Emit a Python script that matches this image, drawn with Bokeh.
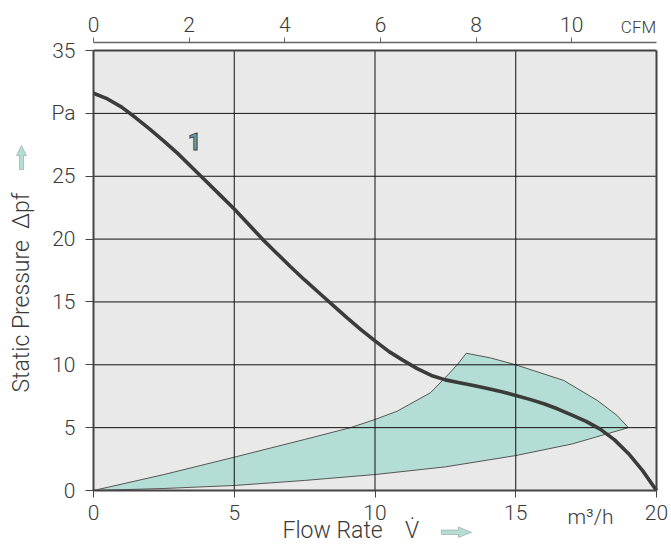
from math import pi

from bokeh.core.properties import value
from bokeh.embed import file_html
from bokeh.models import FixedTicker, Label, LinearAxis, PolyAnnotation, Range1d
from bokeh.plotting import figure
from bokeh.resources import INLINE

# Fan characteristic curve "1": flow rate (m³/h) against static pressure (Pa)
curve_flow = [0.0, 0.5, 1.0, 1.5, 2.0, 2.5, 3.0, 3.5, 4.0, 4.5, 5.0, 5.5, 6.0,
              6.5, 7.0, 7.5, 8.0, 8.5, 9.0, 9.5, 10.0, 10.5, 11.0, 11.5, 12.0,
              12.5, 13.0, 13.5, 14.0, 14.5, 15.0, 15.5, 16.0, 16.5, 17.0, 17.5,
              18.0, 18.5, 19.0, 19.5, 20.0]
curve_pressure = [31.6, 31.15, 30.5, 29.65, 28.75, 27.8, 26.8, 25.7, 24.6,
                  23.5, 22.4, 21.2, 20.0, 18.9, 17.8, 16.75, 15.75, 14.75,
                  13.75, 12.8, 11.9, 11.05, 10.35, 9.7, 9.15, 8.8, 8.58, 8.35,
                  8.12, 7.86, 7.56, 7.25, 6.9, 6.48, 6.0, 5.5, 4.88, 4.05,
                  2.95, 1.6, 0.0]

# Recommended operating range (shaded area), traced round its outline
zone_flow = [0, 2.5, 5, 7.5, 10, 12.5, 15, 17, 19, 18.6, 17.9, 16.7, 15, 14.1,
             13.24, 12.9, 12.43, 11.97, 10.79, 10, 9.13, 7.5, 5, 2.5, 0]
zone_pressure = [0, 0.16, 0.4, 0.8, 1.27, 1.88, 2.78, 3.7, 5.0, 5.97, 7.16,
                 8.76, 10.0, 10.55, 10.92, 9.94, 8.83, 7.78, 6.31, 5.65, 5.0,
                 4.06, 2.65, 1.27, 0]

flow_ticks = [0, 5, 10, 15, 20]
pressure_ticks = [0, 5, 10, 15, 20, 25, 30, 35]
pressure_labels = {30: "Pa"}
cfm_ticks = [0, 2, 4, 6, 8, 10]
grid_flow = [5, 10, 15]
grid_pressure = [5, 10, 15, 20, 25, 30]

M3H_PER_CFM = 1.699
FLOW_MAX = 20
PRESSURE_MAX = 35

# Page layout in pixels: the plotting frame spans the whole canvas and the
# axes sit at fixed data positions inside it.
W, H = 671, 558
ORIGIN_X, ORIGIN_Y = 93, 490      # where flow 0 / pressure 0 meet
PX_PER_FLOW = 28.15
PX_PER_PA = 12.57
TOP_AXIS_PX = 42


def fx(px):
    """Canvas x pixel -> flow units."""
    return (px - ORIGIN_X) / PX_PER_FLOW


def fy(py):
    """Canvas y pixel -> pressure units."""
    return (ORIGIN_Y - py) / PX_PER_PA


FONT = "Roboto Light"
TEXT = "#3a3a3a"
AXIS = "#444444"
TEAL = "#b4ddd5"

p = figure(width=W, height=H, output_backend="svg", toolbar_location=None,
           x_range=Range1d(fx(0), fx(W)), y_range=Range1d(fy(H), fy(0)),
           x_axis_location=None, y_axis_location=None, min_border=0,
           background_fill_color="white", border_fill_color="white",
           outline_line_color=None)
p.grid.visible = False
p.extra_x_ranges = {"cfm": Range1d(fx(0) / M3H_PER_CFM, fx(W) / M3H_PER_CFM)}

x_axis = LinearAxis(fixed_location=0, ticker=FixedTicker(ticks=flow_ticks),
                    bounds=(0, FLOW_MAX))
y_axis = LinearAxis(fixed_location=0, ticker=FixedTicker(ticks=pressure_ticks),
                    bounds=(0, PRESSURE_MAX),
                    major_label_overrides=pressure_labels)
cfm_axis = LinearAxis(fixed_location=fy(TOP_AXIS_PX), x_range_name="cfm",
                      ticker=FixedTicker(ticks=cfm_ticks),
                      bounds=(0, FLOW_MAX / M3H_PER_CFM))

for ax in (x_axis, y_axis, cfm_axis):
    ax.minor_tick_line_color = None
    ax.major_tick_in = 0
    ax.major_label_text_font = FONT
    ax.major_label_text_font_size = "21px"
    ax.major_label_text_color = TEXT
    ax.axis_line_color = AXIS
    ax.major_tick_line_color = AXIS

x_axis.axis_line_width = 2
x_axis.major_tick_out = 7
x_axis.major_label_standoff = 7
y_axis.axis_line_width = 2
y_axis.major_tick_out = 8
y_axis.major_label_standoff = 10
cfm_axis.axis_line_width = 1.5
cfm_axis.major_tick_out = 5
cfm_axis.major_label_standoff = 6
cfm_axis.axis_line_color = "#666666"
cfm_axis.major_tick_line_color = "#666666"

# Chart area
p.quad(left=[0], right=[FLOW_MAX], bottom=[0], top=[PRESSURE_MAX],
       fill_color="#e9e9e9", line_color=None)
p.patch(zone_flow, zone_pressure, fill_color=TEAL, line_color="#555555",
        line_width=1)

p.segment(x0=grid_flow, y0=[0] * len(grid_flow), x1=grid_flow,
          y1=[PRESSURE_MAX] * len(grid_flow), line_color="#111111", line_width=1)
p.segment(x0=[0] * len(grid_pressure), y0=grid_pressure,
          x1=[FLOW_MAX] * len(grid_pressure), y1=grid_pressure,
          line_color="#111111", line_width=1)
# Edges at the top and right of the chart area
p.segment(x0=[0, FLOW_MAX], y0=[PRESSURE_MAX, 0], x1=[FLOW_MAX, FLOW_MAX],
          y1=[PRESSURE_MAX, PRESSURE_MAX], line_color=AXIS, line_width=2)

p.add_layout(x_axis, "below")
p.add_layout(y_axis, "left")
p.add_layout(cfm_axis, "above")

p.line(curve_flow, curve_pressure, line_color="#3b3b3b", line_width=3.6)

p.text(x=[3.59], y=[27.76], text=["1"], text_font=value("Roboto"),
       text_font_style="bold", text_font_size="23px", text_color="#62a3b0",
       text_outline_color="#444444", text_align="center",
       text_baseline="middle")

# Unit labels
p.add_layout(Label(x=fx(590), y=fy(516), text="m³/h", text_font=FONT,
                   text_font_size="21px", text_color=TEXT, text_align="center",
                   text_baseline="middle"))
p.add_layout(Label(x=fx(638), y=fy(26), text="CFM", text_font=FONT,
                   text_font_size="17px", text_color=TEXT, text_align="center",
                   text_baseline="middle"))

# Axis titles with their direction arrows
p.add_layout(Label(x=fx(282), y=fy(530),
                   text="Flow Rate\u00a0\u00a0\u00a0\u00a0V\u0307",
                   text_font=FONT, text_font_size="23px", text_color=TEXT,
                   text_align="left", text_baseline="middle"))
p.add_layout(Label(x=fx(21), y=fy(392),
                   text="Static Pressure\u00a0\u00a0\u2206pf",
                   text_font=FONT, text_font_size="23px", text_color=TEXT,
                   text_align="left", text_baseline="middle", angle=pi / 2))

ax_px = [441, 458, 458, 471, 458, 458, 441]
ay_px = [529.5, 529.5, 526.5, 531.8, 537, 534, 534]
p.add_layout(PolyAnnotation(xs=[fx(v) for v in ax_px], ys=[fy(v) for v in ay_px],
                            fill_color=TEAL, fill_alpha=1, line_color="#555555",
                            line_width=1))
ux_px = [19, 19, 16, 21, 26, 23, 23]
uy_px = [169, 155, 155, 145, 155, 155, 169]
p.add_layout(PolyAnnotation(xs=[fx(v) for v in ux_px], ys=[fy(v) for v in uy_px],
                            fill_color=TEAL, fill_alpha=1, line_color="#555555",
                            line_width=1))

open("out.html", "w").write(file_html(p, INLINE))
